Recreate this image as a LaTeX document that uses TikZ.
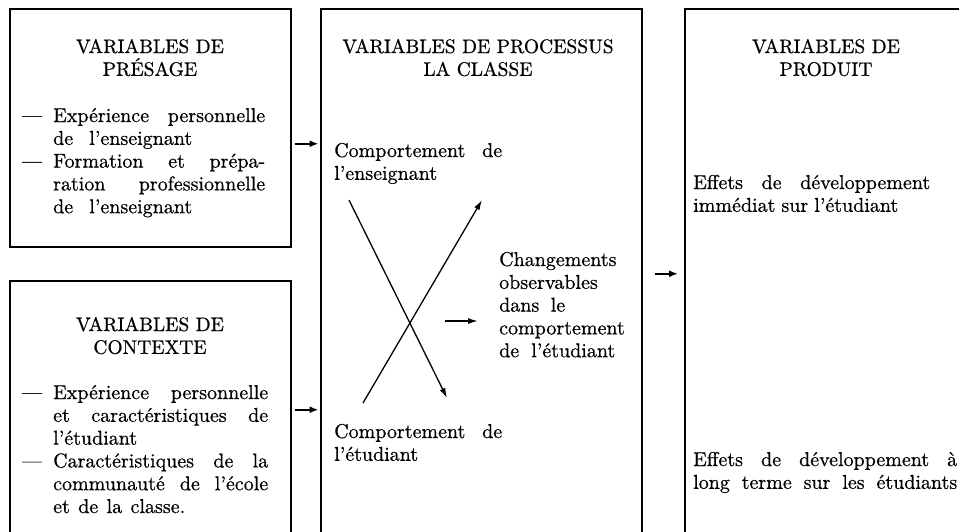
\documentclass[tikz,border=0pt]{standalone}
\usepackage{fontspec}
\setmainfont{lmroman10-regular.otf}[UprightFeatures={FakeBold=0.6}]
\usetikzlibrary{arrows.meta,calc}
\newcommand{\jst}[2]{{\spaceskip=0pt\xspaceskip=0pt\makebox[#1pt][s]{#2}}}
\newcommand{\dsh}{\makebox[31pt][l]{—}}
\newcommand{\ind}{\hspace*{31pt}}
\begin{document}
\begin{tikzpicture}[x=1pt,y=-1pt,
  box/.style={draw, line width=1.5pt, inner sep=0pt, anchor=north west},
  txt/.style={inner sep=0pt, anchor=base west, align=left, text width=#1,
    font=\fontsize{20}{22.8}\selectfont},
  ttl/.style={inner sep=0pt, anchor=base, align=center, text width=320pt,
    font=\fontsize{19.5}{22.8}\selectfont},
  arr/.style={-{Latex[length=9pt,width=7pt]}, line width=1.7pt},
  xarr/.style={-{Latex[length=10pt,width=6pt]}, line width=1.3pt},
]
\useasboundingbox (0,0) rectangle (959,531);
\clip (0,0) rectangle (959,531);
\fill[white] (0,0) rectangle (959,531);

% boxes
\node[box, minimum width=281pt, minimum height=238pt] (presage) at (9,8) {};
\node[box, minimum width=281pt, minimum height=265pt] (contexte) at (9,280) {};
\node[box, minimum width=321pt, minimum height=537pt] (process) at (320,8) {};
\node[box, minimum width=291pt, minimum height=537pt] (produit) at (684,8) {};

% box 1
\node[ttl] (t1) at (150,53) {VARIABLES DE\\PRÉSAGE};
\node[txt=265pt] (b1) at (22,122) {\dsh\jst{212}{Expérience personnelle}\\
\ind\jst{139}{de l'enseignant}\\
\dsh\jst{212}{Formation et prépa-}\\
\ind\jst{212}{ration professionnelle}\\
\ind\jst{139}{de l'enseignant}};

% box 2
\node[ttl] (t2) at (150,331) {VARIABLES DE\\CONTEXTE};
\node[txt=265pt] (b2) at (22,399) {\dsh\jst{215}{Expérience personnelle}\\
\ind\jst{215}{et caractéristiques de}\\
\ind l'étudiant\\
\dsh\jst{215}{Caractéristiques de la}\\
\ind\jst{215}{communauté de l'école}\\
\ind\jst{132}{et de la classe.}};

% box 3
\node[ttl] (t3) at (478,53) {VARIABLES DE PROCESSUS\\LA CLASSE};
\node[txt=200pt] (ce) at (334,157) {\jst{168}{Comportement de}\\l'enseignant};
\node[txt=130pt] (chg) at (499,266) {Changements\\observables\\\jst{66}{dans le}\\comportement\\\jst{116}{de l'étudiant}};
\node[txt=200pt] (cet) at (334,438) {\jst{168}{Comportement de}\\l'étudiant};

% box 4
\node[ttl] (t4) at (826,53) {VARIABLES DE\\PRODUIT};
\node[txt=270pt] (e1) at (693,189) {\jst{237}{Effets de développement}\\\jst{205}{immédiat sur l'étudiant}};
\node[txt=270pt] (e2) at (693,466) {\jst{264}{Effets de développement à}\\\jst{264}{long terme sur les étudiants}};

% arrows between boxes
\draw[arr, shorten <=3pt, shorten >=1.5pt] ($(presage.east)+(0,16)$) -- ($(presage.east -| process.west)+(0,16)$);
\draw[arr, shorten <=3pt, shorten >=1.5pt] ($(contexte.east)+(0,-3.5)$) -- ($(contexte.east -| process.west)+(0,-3.5)$);
\draw[arr, shorten <=12pt, shorten >=6pt] ($(process.east)+(0,-3.5)$) -- ($(process.east -| produit.west)+(0,-3.5)$);

% cross inside process box
\coordinate (x1s) at (349,200);
\coordinate (x1e) at (447,398);
\coordinate (x2s) at (363,403);
\coordinate (x2e) at (482,200);
\coordinate (ms) at (445,321);
\coordinate (me) at (478,321);
\draw[xarr] (x1s) -- (x1e);
\draw[xarr] (x2s) -- (x2e);
\draw[xarr, line width=1.5pt] (ms) -- (me);
\end{tikzpicture}
\end{document}
